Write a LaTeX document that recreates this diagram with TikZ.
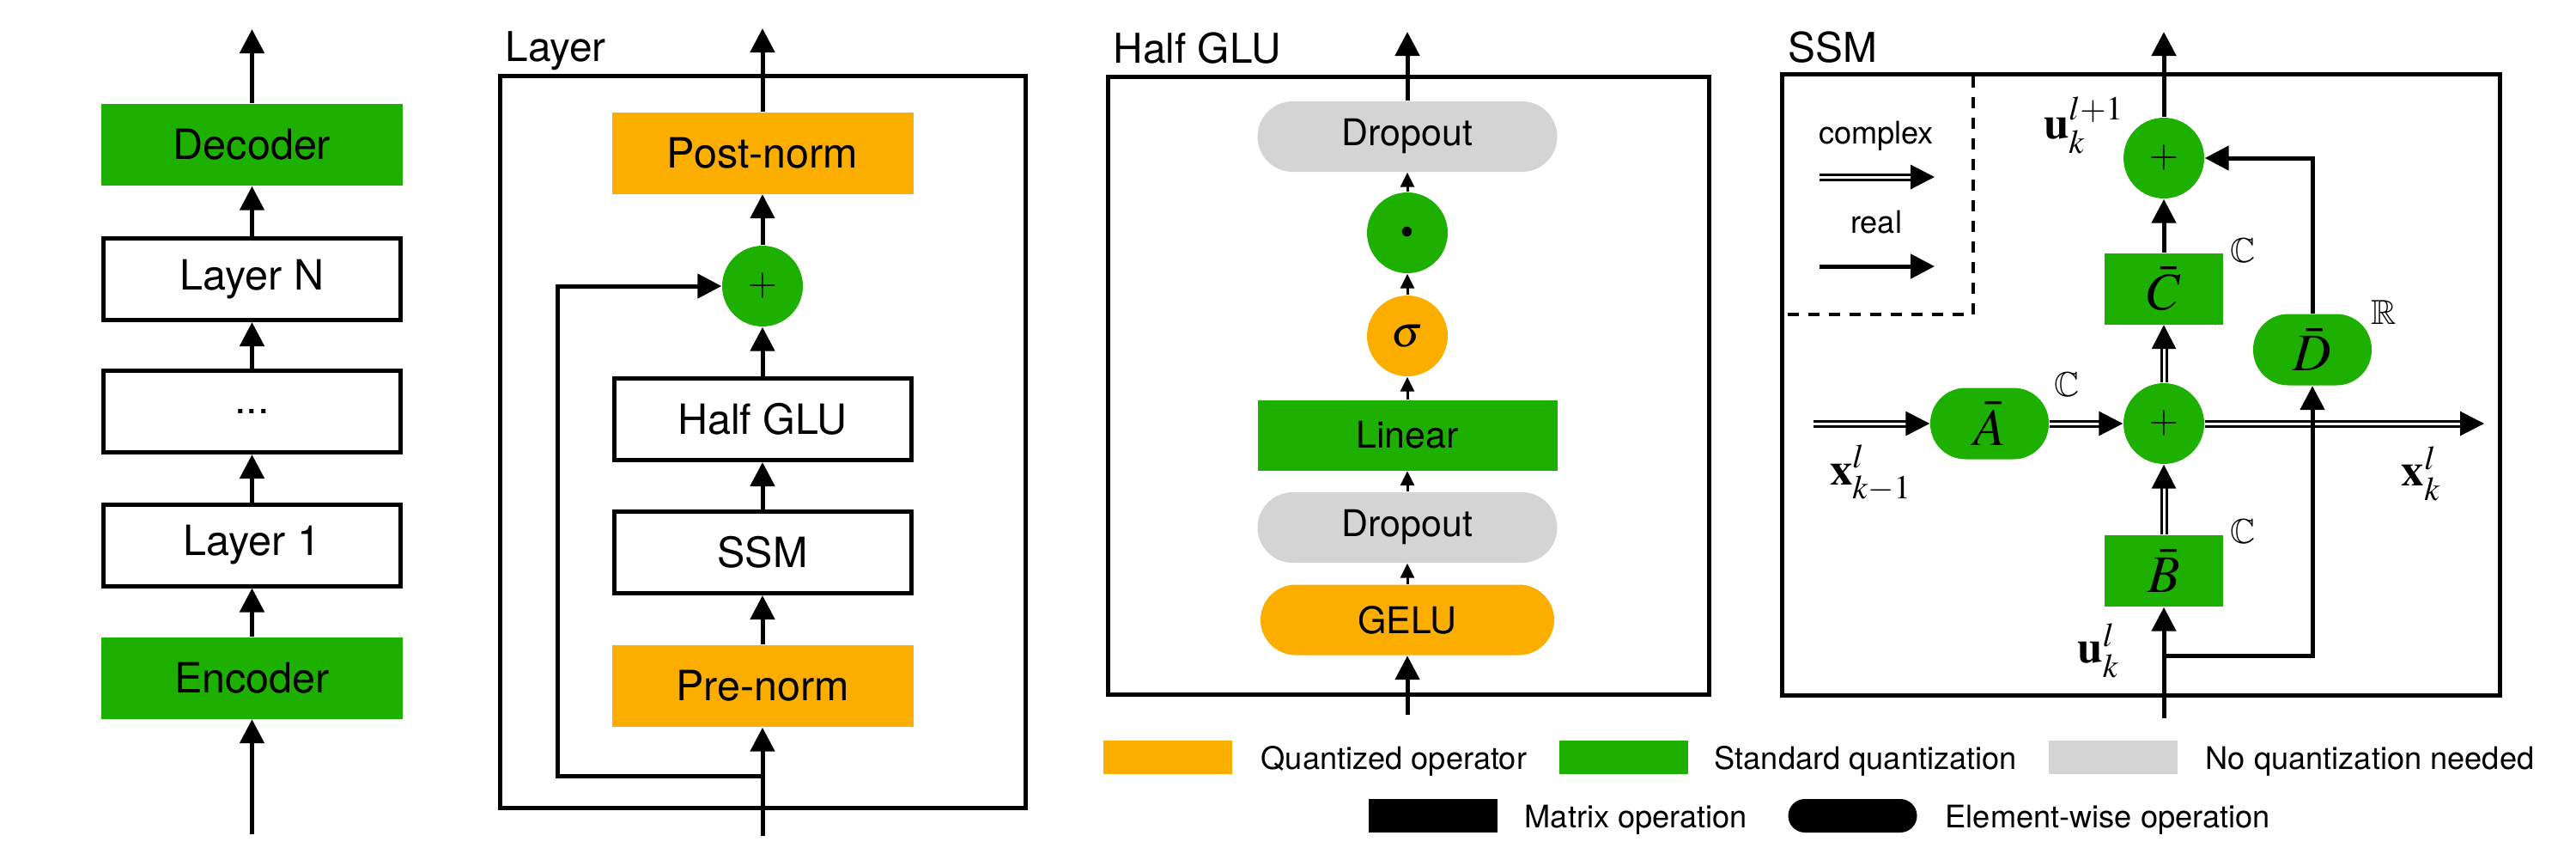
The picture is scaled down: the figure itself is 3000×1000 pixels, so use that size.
\documentclass[tikz,border=0pt]{standalone}
\usepackage{amsmath}
\usepackage{mathptmx}
\usepackage{amssymb}
\usepackage[no-math]{fontspec}
\setmainfont{TeX Gyre Heros}
\usetikzlibrary{arrows.meta}

\definecolor{qgreen}{RGB}{30,176,0}
\definecolor{qorange}{RGB}{252,174,0}
\definecolor{qgray}{RGB}{212,212,212}

\begin{document}
\begin{tikzpicture}[x=0.1mm,y=-0.1mm,
	arr/.style={line width=0.5mm,-{Triangle[length=2.8mm,width=2.8mm]}},
	thinarr/.style={line width=0.3mm,-{Triangle[length=1.7mm,width=1.6mm]}},
	dblarr/.style={double,line width=0.3mm,double distance=0.3mm,-{Triangle[length=2.8mm,width=2.8mm]}},
	frame/.style={line width=0.5mm},
	title/.style={anchor=base west,inner sep=0,font=\fontsize{13.6}{16}\selectfont},
	blk/.style={inner sep=0,minimum width=35.1mm,minimum height=9.5mm,font=\fontsize{13.8}{16}\selectfont},
	wblk/.style={blk,draw,line width=0.5mm,minimum width=34.6mm},
	opnode/.style={circle,inner sep=0,minimum size=9.4mm},
	glublk/.style={inner sep=0,minimum width=34.9mm,minimum height=8.2mm,font=\fontsize{12.2}{14}\selectfont},
	glupill/.style={glublk,rounded corners=4.1mm},
	ssmblk/.style={inner sep=0,minimum width=13.8mm,minimum height=8.3mm,fill=qgreen,font=\fontsize{17.5}{20}\selectfont},
	ssmpill/.style={ssmblk,rounded corners=4.1mm},
	field/.style={inner sep=0,font=\fontsize{11.5}{13}\selectfont},
	vec/.style={inner sep=0,font=\fontsize{15}{17}\selectfont},
	swatch/.style={inner sep=0,minimum width=15mm,minimum height=3.9mm},
	legtxt/.style={anchor=base west,inner sep=0,font=\fontsize{10.3}{12}\selectfont}]
	\useasboundingbox (0,0) rectangle (3000,1000);

	%MODEL
	\node[blk,fill=qgreen] (enc) at (293.5,789) {Encoder};
	\node[wblk] (lay1) at (293.5,634.5) {Layer 1};
	\node[wblk] (laydots) at (293.5,479) {...};
	\node[wblk] (layN) at (293.5,325) {Layer N};
	\node[blk,fill=qgreen] (dec) at (293.5,168.5) {Decoder};
	\coordinate (modin) at (293.5,971);
	\coordinate (modout) at (293.5,34);
	\draw[arr] (modin) -- (enc);
	\draw[arr] (enc) -- (lay1);
	\draw[arr] (lay1) -- (laydots);
	\draw[arr] (laydots) -- (layN);
	\draw[arr] (layN) -- (dec);
	\draw[arr] (dec) -- (modout);

	%LAYER
	\draw[frame] (582.5,88.5) rectangle (1194,940);
	\node[title] (laytitle) at (588,71) {Layer};
	\node[blk,fill=qorange] (prenorm) at (888,798.5) {Pre-norm};
	\node[wblk] (layssm) at (888,643) {SSM};
	\node[wblk] (layglu) at (888,488) {Half GLU};
	\node[opnode,fill=qgreen,font=\fontsize{12.5}{14}\selectfont] (layplus) at (888,333) {$+$};
	\node[blk,fill=qorange] (postnorm) at (888,178) {Post-norm};
	\coordinate (layin) at (888,973);
	\coordinate (layskip) at (888,903);
	\coordinate (layout) at (888,33);
	\draw[arr] (layin) -- (prenorm);
	\draw[arr] (prenorm) -- (layssm);
	\draw[arr] (layssm) -- (layglu);
	\draw[arr] (layglu) -- (layplus);
	\draw[arr] (layplus) -- (postnorm);
	\draw[arr] (postnorm) -- (layout);
	\draw[arr] (layskip) -- ++(-238.5,0) |- (layplus.west);

	%HALF GLU
	\draw[frame] (1290,89) rectangle (1990,808);
	\node[title] (glutitle) at (1296,73) {Half GLU};
	\node[glupill,fill=qorange,minimum width=34.2mm] (gelu) at (1639,721.5) {GELU};
	\node[glupill,fill=qgray] (dropa) at (1639,614) {Dropout};
	\node[glublk,fill=qgreen] (linear) at (1639,506.5) {Linear};
	\node[opnode,fill=qorange,font=\fontsize{14.5}{16}\selectfont] (sig) at (1639,391) {$\sigma$};
	\node[opnode,fill=qgreen,font=\fontsize{8.5}{10}\selectfont] (mul) at (1639,271) {$\bullet$};
	\node[glupill,fill=qgray] (dropb) at (1639,159) {Dropout};
	\coordinate (gluin) at (1639,832);
	\coordinate (gluout) at (1639,37);
	\draw[arr] (gluin) -- (gelu);
	\draw[thinarr] (gelu) -- (dropa);
	\draw[thinarr] (dropa) -- (linear);
	\draw[thinarr] (linear) -- (sig);
	\draw[thinarr] (sig) -- (mul);
	\draw[thinarr] (mul) -- (dropb);
	\draw[arr] (dropb) -- (gluout);

	%SSM
	\draw[frame] (2075,86.5) rectangle (2911,809.5);
	\node[title] (ssmtitle) at (2082,72) {SSM};
	\draw[line width=0.45mm,dash pattern=on 1.3mm off 1.1mm] (2298,89) -- (2298,366) -- (2077,366);
	\node[legtxt,anchor=base] (cplxtxt) at (2185,167) {complex};
	\node[legtxt,anchor=base] (realtxt) at (2185,271) {real};
	\coordinate (cplxa) at (2119,206);
	\coordinate (cplxb) at (2253,206);
	\coordinate (reala) at (2119,310);
	\coordinate (realb) at (2253,310);
	\draw[dblarr] (cplxa) -- (cplxb);
	\draw[arr] (reala) -- (realb);
	%
	\node[ssmpill] (Abar) at (2317,493) {$\bar{A}$};
	\node[opnode,fill=qgreen,font=\fontsize{12.5}{14}\selectfont] (ssmplus) at (2520,493) {$+$};
	\node[ssmblk] (Bbar) at (2520,664.5) {$\bar{B}$};
	\node[ssmblk] (Cbar) at (2520,336) {$\bar{C}$};
	\node[ssmpill] (Dbar) at (2693,407) {$\bar{D}$};
	\node[opnode,fill=qgreen,font=\fontsize{12.5}{14}\selectfont] (outplus) at (2520,184) {$+$};
	\coordinate (xin) at (2112,493);
	\coordinate (xout) at (2893,493);
	\coordinate (uin) at (2520,836);
	\coordinate (ubr) at (2520,763);
	\coordinate (uout) at (2520,37);
	\draw[dblarr] (xin) -- (Abar);
	\draw[dblarr] (Abar) -- (ssmplus);
	\draw[dblarr] (ssmplus) -- (xout);
	\draw[arr] (uin) -- (Bbar);
	\draw[arr] (ubr) -| (Dbar.south);
	\draw[dblarr] (Bbar) -- (ssmplus);
	\draw[dblarr] (ssmplus) -- (Cbar);
	\draw[arr] (Cbar) -- (outplus);
	\draw[arr] (Dbar.north) |- (outplus.east);
	\draw[arr] (outplus) -- (uout);

	%LABELS
	\node[field] (Afield) at (2407,448) {$\mathbb{C}$};
	\node[field] (Bfield) at (2612,619) {$\mathbb{C}$};
	\node[field] (Cfield) at (2612,292) {$\mathbb{C}$};
	\node[field] (Dfield) at (2776,364) {$\mathbb{R}$};
	\node[vec] (xinlab) at (2179,551) {$\mathbf{x}_{k-1}^{l}$};
	\node[vec] (xoutlab) at (2820,551) {$\mathbf{x}_{k}^{l}$};
	\node[vec] (uinlab) at (2444,757) {$\mathbf{u}_{k}^{l}$};
	\node[vec] (uoutlab) at (2427,146) {$\mathbf{u}_{k}^{l+1}$};

	%LEGEND
	\node[swatch,fill=qorange] (lgq) at (1360,881.5) {};
	\node[legtxt] (lgqt) at (1468,895) {Quantized operator};
	\node[swatch,fill=qgreen] (lgs) at (1890.5,881.5) {};
	\node[legtxt] (lgst) at (1996,895) {Standard quantization};
	\node[swatch,fill=qgray] (lgn) at (2461,881.5) {};
	\node[legtxt] (lgnt) at (2568,895) {No quantization needed};
	\node[swatch,fill=black] (lgm) at (1668.5,949.5) {};
	\node[legtxt] (lgmt) at (1775,963) {Matrix operation};
	\node[swatch,fill=black,rounded corners=1.95mm] (lge) at (2157.5,949.5) {};
	\node[legtxt] (lget) at (2265,963) {Element-wise operation};
\end{tikzpicture}
\end{document}
